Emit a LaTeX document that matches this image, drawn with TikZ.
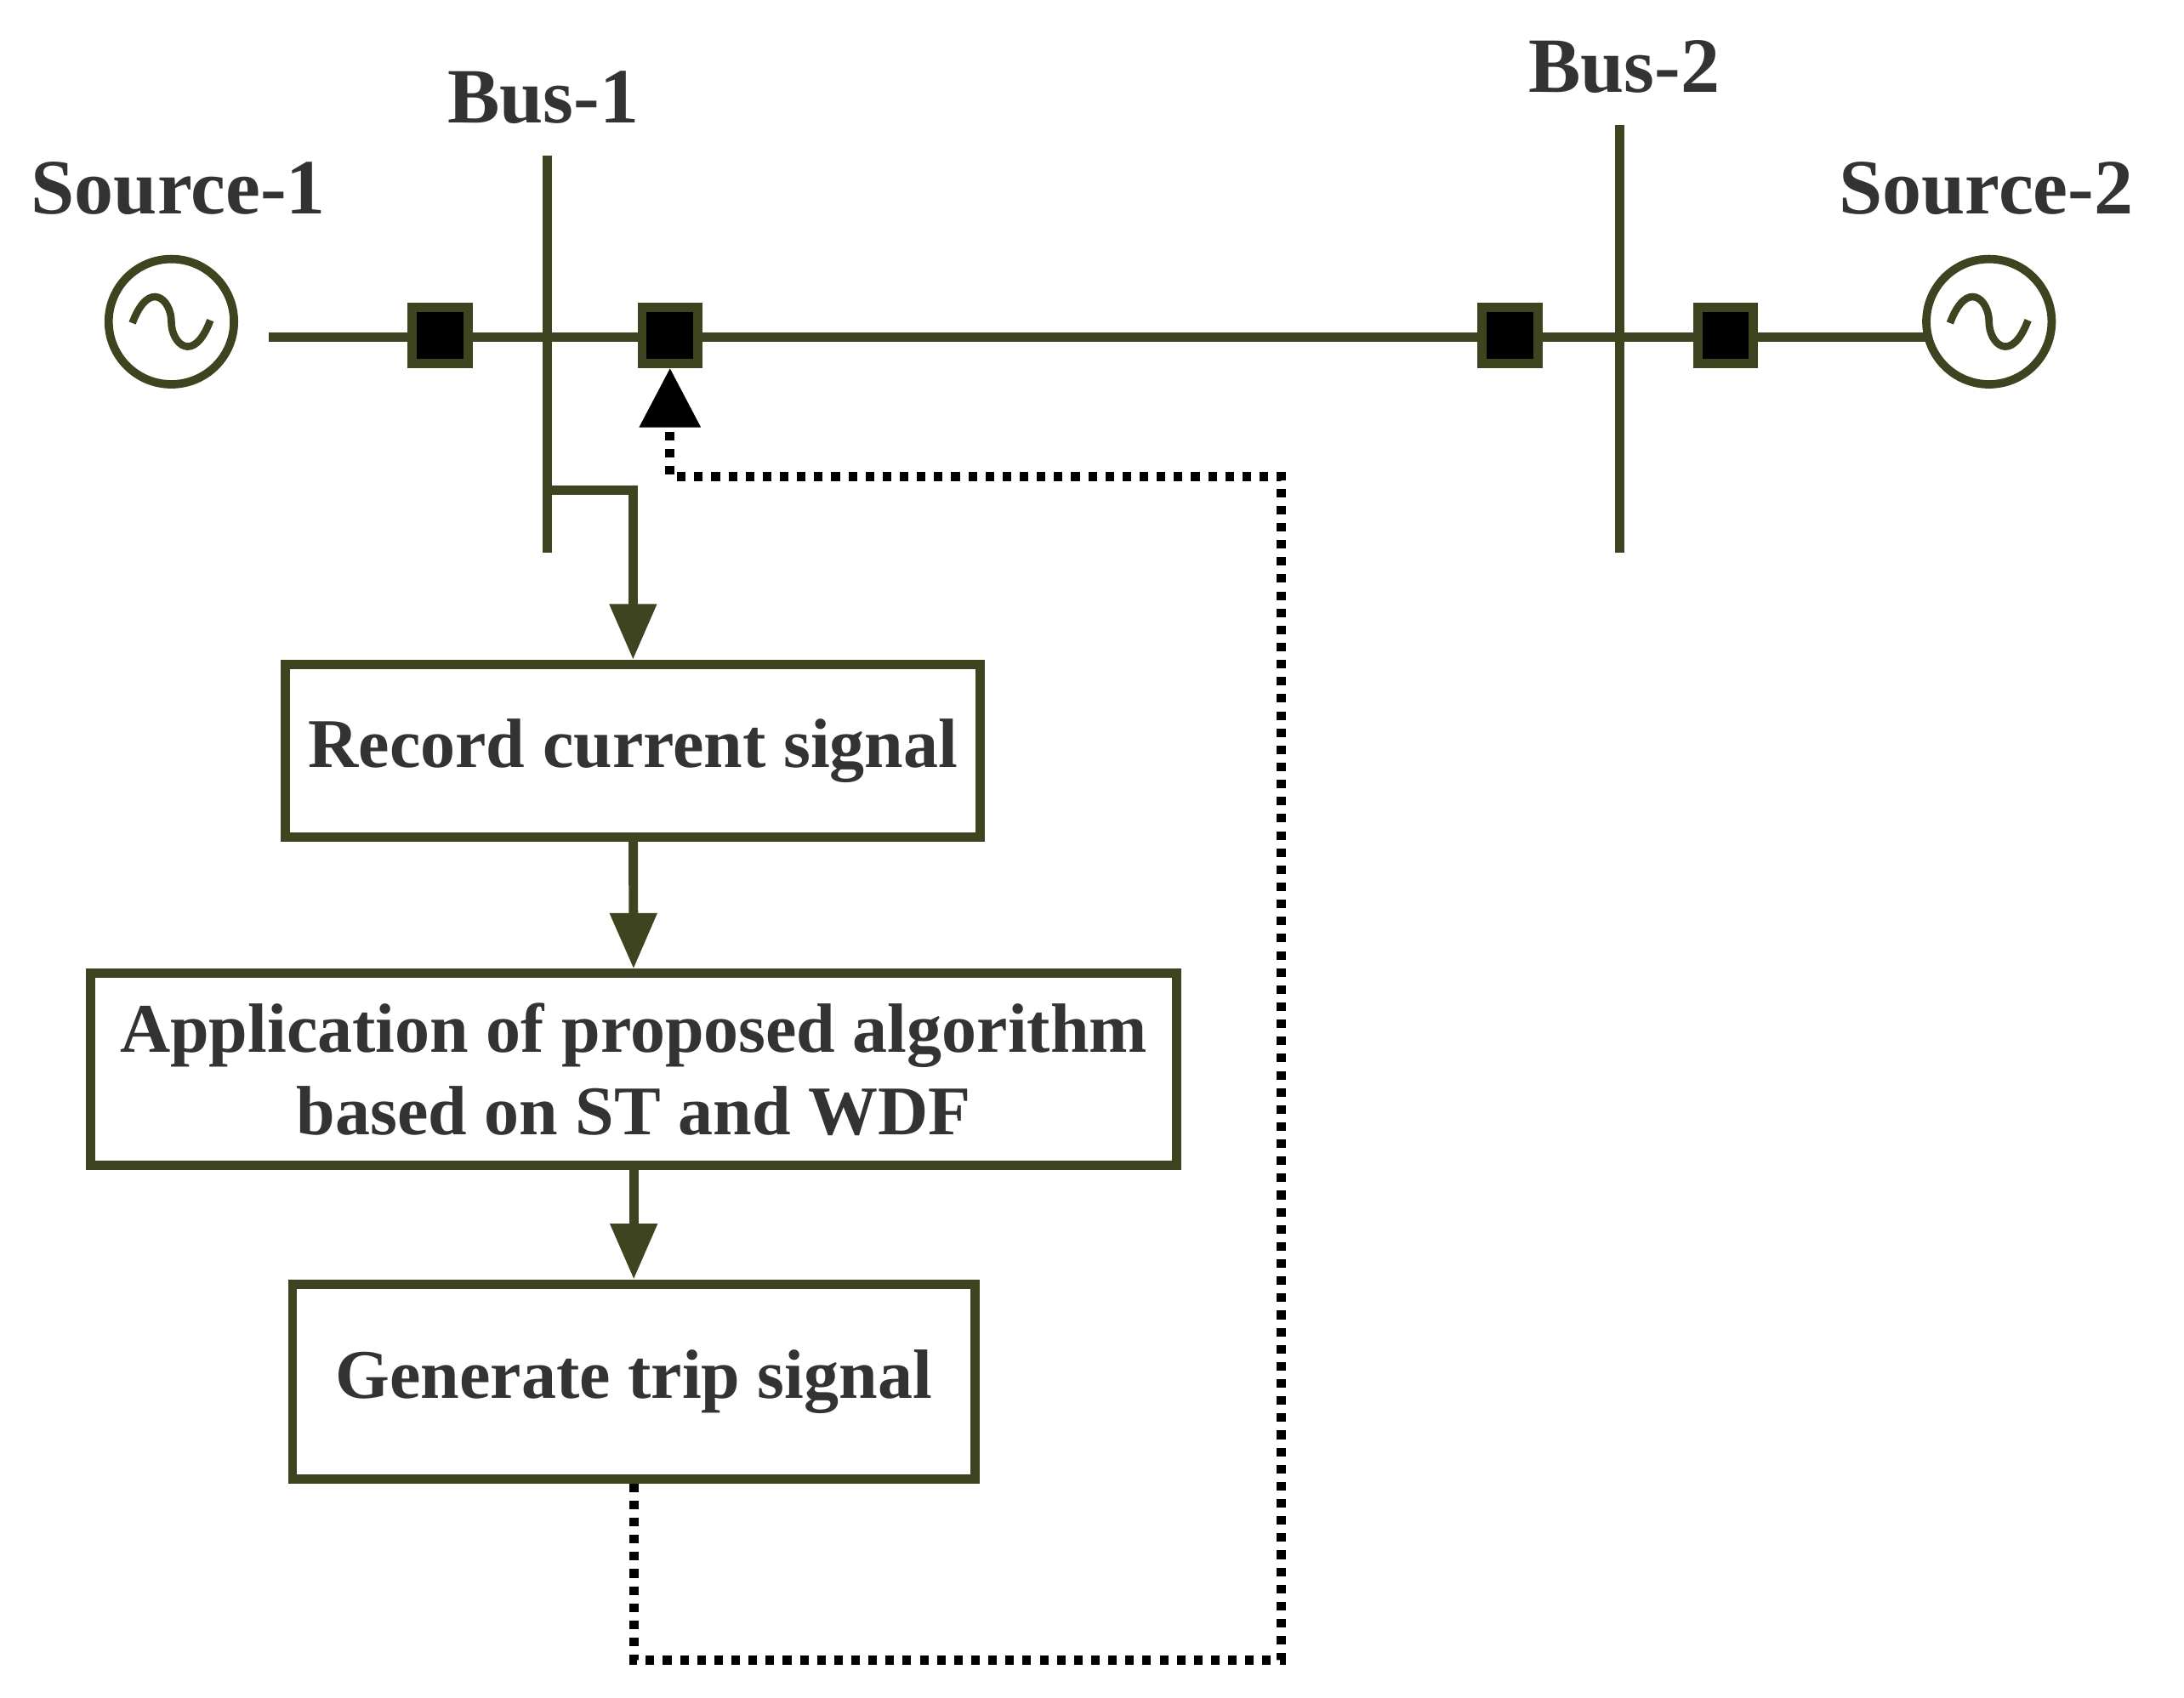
\documentclass[tikz,border=0pt]{standalone}
\usepackage{fontspec}
\setmainfont{Liberation Serif}
\usetikzlibrary{arrows.meta}
\definecolor{ol}{HTML}{3F4420}
\definecolor{tx}{HTML}{333333}
\begin{document}
\begin{tikzpicture}[x=0.02cm,y=-0.02cm,
  wire/.style={ol,line width=3.8pt},
  brk/.style={draw=ol,fill=black,line width=3.8pt,minimum size=0.8cm,inner sep=0pt},
  src/.style={circle,draw=ol,line width=3.4pt,minimum size=1.8cm,inner sep=0pt},
  box/.style={draw=ol,line width=3.8pt,text=tx,font=\fontsize{28.5}{34}\selectfont\bfseries,align=center,inner sep=0pt},
  lab/.style={text=tx,font=\fontsize{32}{38}\selectfont\bfseries},
  arr/.style={wire,-{Triangle[length=0.8cm,width=0.65cm]}},
  dot/.style={black,line width=3.8pt,dash pattern=on 3.5pt off 3.5pt}]
\useasboundingbox (0,0) rectangle (1568,1219);
\node[src] (s1) at (123,231) {};
\node[src] (s2) at (1428,231) {};
\draw[ol,line width=3pt] (95,232) .. controls (107,200) and (123,215) .. (123,231) .. controls (123,247) and (139,262) .. (151,230);
\draw[ol,line width=3pt] (1400,232) .. controls (1412,200) and (1428,215) .. (1428,231) .. controls (1428,247) and (1444,262) .. (1456,230);
\node[lab] (l1) at (128,135) {Source-1};
\node[lab] (l2) at (1426,135) {Source-2};
\node[lab] (b1l) at (390,70) {Bus-1};
\node[lab] (b2l) at (1166,48) {Bus-2};
\coordinate (a) at (193,242);
\coordinate (b) at (1383,242);
\draw[wire] (a) -- (b);
\coordinate (b1t) at (393,112); \coordinate (b1b) at (393,397);
\coordinate (b2t) at (1163,90); \coordinate (b2b) at (1163,397);
\draw[wire] (b1t) -- (b1b);
\draw[wire] (b2t) -- (b2b);
\node[brk] (k1) at (316,241) {};
\node[brk] (k2) at (481,241) {};
\node[brk] (k3) at (1084,241) {};
\node[brk] (k4) at (1239,241) {};
\node[box,minimum width=9.98cm,minimum height=2.48cm] (r1) at (454.5,539) {Record current signal};
\node[box,minimum width=15.6cm,minimum height=2.76cm] (r2) at (455,768) {Application of proposed algorithm\\based on ST and WDF};
\node[box,minimum width=9.8cm,minimum height=2.8cm] (r3) at (455,992) {Generate trip signal};
\coordinate (t1) at (393,352);
\draw[arr] (t1) -| (r1.north);
\draw[arr] (r1) -- (r2);
\draw[arr] (r2) -- (r3);
\coordinate (d1) at (455,1192); \coordinate (d2) at (920,1192); \coordinate (d3) at (920,342); \coordinate (d4) at (481,342);
\draw[dot] (r3.south) -- (d1) -- (d2) -- (d3) -- (d4) -- (481,300);
\draw[black,-{Triangle[length=0.85cm,width=0.85cm]},line width=3.8pt] (481,300) -- (k2.south);
\end{tikzpicture}
\end{document}
